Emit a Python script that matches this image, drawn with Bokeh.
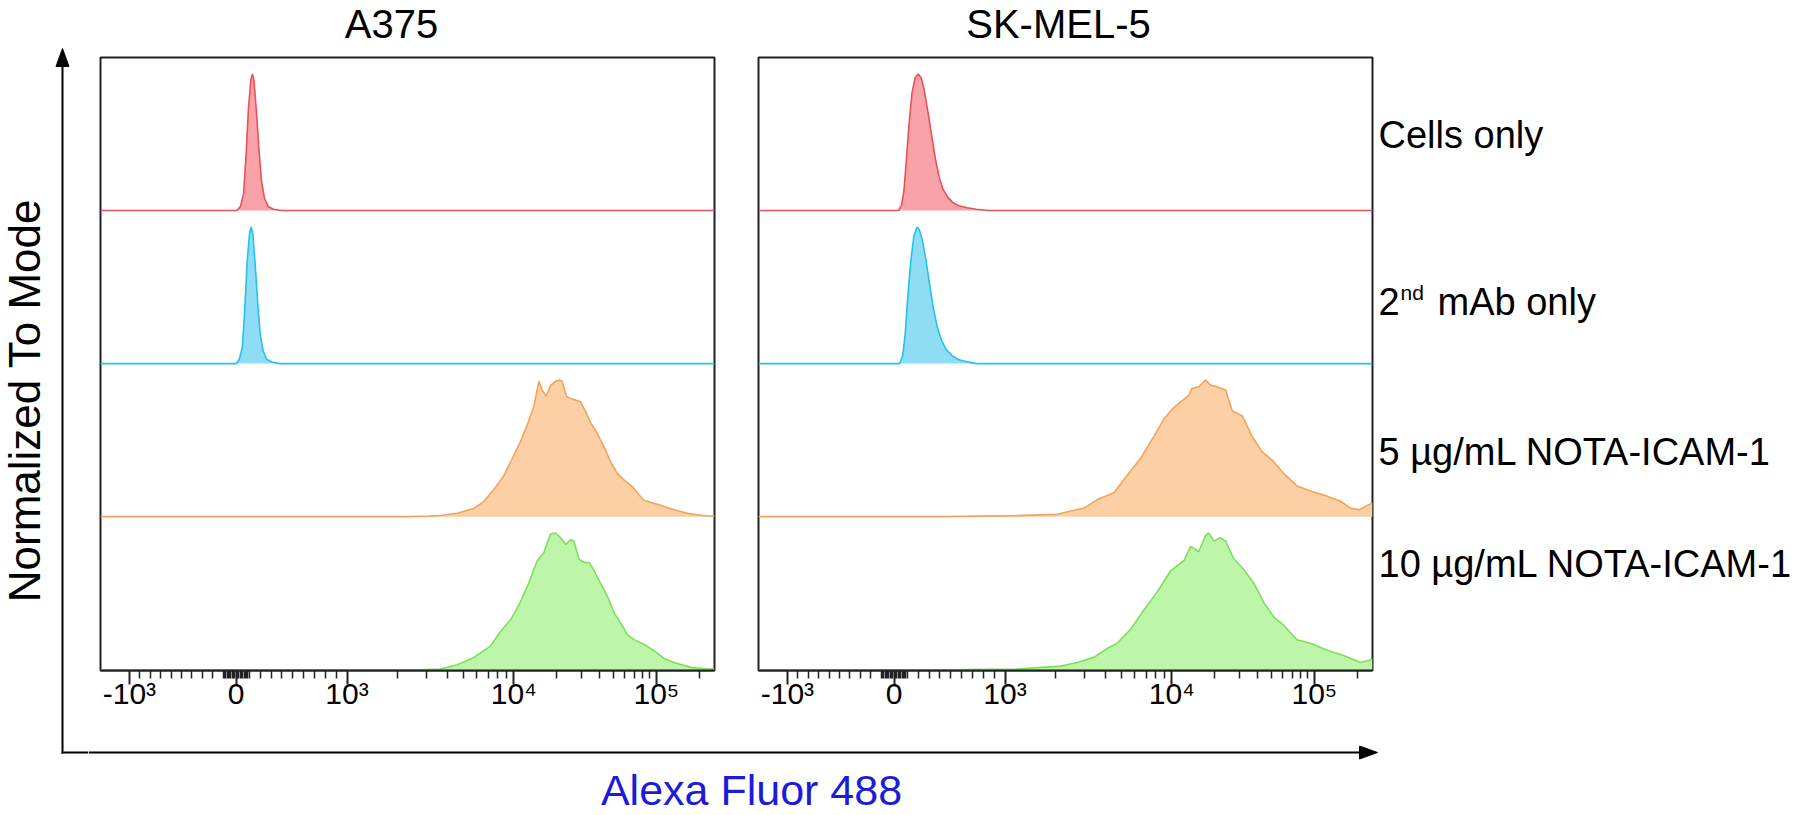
import math
from bokeh.plotting import figure
from bokeh.layouts import row, column
from bokeh.models import ColumnDataSource, Range1d, FixedTicker
from bokeh.core.properties import value
from bokeh.embed import file_html
from bokeh.resources import INLINE

# ---------------- data ----------------
PANELS = ["A375", "SK-MEL-5"]
SAMPLES = ["Cells only", "2nd mAb only", "5 µg/mL NOTA-ICAM-1", "10 µg/mL NOTA-ICAM-1"]
Y_LABEL = "Normalized To Mode"
X_LABEL = "Alexa Fluor 488"

# x: display channel of the biexponential Alexa Fluor 488 axis (0-1000), y: % of mode
A375_CELLS_CH = [0, 222, 228, 233, 237, 241, 245, 247.5, 250, 254, 258, 262, 267, 273, 282, 295, 1000]
A375_CELLS_PCT = [0, 0, 3, 12, 40, 75, 96, 100, 95, 72, 45, 22, 9, 3, 1, 0, 0]

A375_2ND_CH = [0, 221, 226, 231, 235, 239, 243, 245.5, 248, 252, 256, 260, 265, 271, 280, 292, 1000]
A375_2ND_PCT = [0, 0, 3, 12, 40, 76, 96, 100, 95, 72, 45, 22, 9, 3, 1, 0, 0]

A375_5UG_CH = [0, 500, 535, 554, 581, 608, 624, 641, 657, 670, 684, 695, 706, 714, 719, 726, 733, 741, 748, 752,
               759, 768, 782, 790, 798, 809, 820, 831, 841, 852, 866, 877, 885, 907, 934, 961, 988, 1000]
A375_5UG_PCT = [0, 0, 0.4, 0.8, 2.5, 6, 11, 20, 30, 42, 55, 67, 81, 99, 93, 88, 96, 99, 100, 99,
                88, 86, 84, 77, 69, 61, 51, 40, 32, 27, 22, 16, 12, 9, 5, 2, 0.5, 0.5]

A375_10UG_CH = [0, 520, 554, 581, 608, 635, 651.5, 668, 684, 698, 711, 722, 733, 741, 749.5, 758, 766, 771, 779.5, 788,
                796, 804, 815, 826, 837, 847.5, 858, 869, 885.5, 902, 918, 934, 961.5, 988.6, 1000]
A375_10UG_PCT = [0, 0, 0.5, 3.6, 8.9, 17.3, 28, 36.5, 49.6, 64, 79.6, 85.6, 99.3, 100, 96.4, 91.6, 95.2, 94, 80.8, 78.4,
                 78.4, 72.4, 62.8, 53.2, 41.2, 34, 25.7, 22, 18.5, 13.7, 8.2, 5.3, 1.7, 0.5, 0.5]

SK_CELLS_CH = [0, 228, 233, 237, 241, 245, 250, 255, 260, 265, 270, 276, 282, 288, 294, 300, 308, 316, 326, 340, 355, 375, 1000]
SK_CELLS_PCT = [0, 0, 4, 15, 38, 62, 86, 97, 100, 97, 88, 72, 55, 38, 25, 16, 10, 6, 3.5, 2, 1, 0, 0]

SK_2ND_CH = [0, 230, 235, 239, 243, 248, 253, 258, 262, 267, 273, 279, 285, 291, 298, 306, 315, 325, 338, 355, 1000]
SK_2ND_PCT = [0, 0, 6, 22, 48, 75, 93, 100, 98, 90, 75, 57, 40, 27, 17, 10, 6, 3, 1.5, 0, 0]

SK_5UG_CH = [0, 300, 421, 486, 530, 552, 579, 600, 622, 644, 660, 674, 687, 701, 706, 717, 728, 736, 747, 761,
             771.5, 788, 804, 820, 837, 856, 877, 899, 926, 948, 964, 978, 991.5, 1000]
SK_5UG_PCT = [0, 0, 0.75, 1.75, 6.25, 12.5, 17.5, 30, 42.5, 58.75, 71.25, 78.75, 83.75, 88.75, 93.75, 95, 100, 96.25, 95, 92.5,
              77.5, 73.75, 58.75, 47.5, 41.25, 31.25, 22.5, 18.75, 15, 11.25, 6.25, 5, 8.25, 10]

SK_10UG_CH = [0, 300, 421, 492, 519, 546, 568, 584, 606, 628, 649, 671, 693, 704, 717, 728, 733, 742, 752, 761,
              774, 790, 807, 823, 839, 856, 877, 899, 926, 953, 980.5, 1000]
SK_10UG_PCT = [0, 0, 0.5, 2.6, 5.2, 9, 15.5, 19.3, 29.6, 43.8, 56.7, 72.2, 79.9, 90.2, 86.3, 97.9, 100, 94, 96.6, 94,
               81.2, 73.5, 63.1, 49, 38.7, 32.2, 21.9, 19.3, 14.2, 10.3, 5.2, 7.7]

SERIES = {
    "A375": [(A375_CELLS_CH, A375_CELLS_PCT), (A375_2ND_CH, A375_2ND_PCT),
             (A375_5UG_CH, A375_5UG_PCT), (A375_10UG_CH, A375_10UG_PCT)],
    "SK-MEL-5": [(SK_CELLS_CH, SK_CELLS_PCT), (SK_2ND_CH, SK_2ND_PCT),
                 (SK_5UG_CH, SK_5UG_PCT), (SK_10UG_CH, SK_10UG_PCT)],
}

# axis calibration: tick values, their labels, and their display channels
TICK_VALUES = [-1000, 0, 1000, 10000, 100000]
TICK_LABELS = ["-10³", "0", "10³", "10⁴", "10⁵"]
TICK_CHANNELS = [47.1, 220.7, 401.5, 673.2, 905.4]

FILL_COLORS = ["#f9a3a8", "#8fdcf5", "#fccfa4", "#bdf6a8"]
LINE_COLORS = ["#e8505a", "#22c3ec", "#f2a35c", "#7edf5a"]

FONT = "Liberation Sans"
ROW = 112.0  # vertical room per sample (in % of mode)

# page layout (pixels)
FRAME_TOP, FRAME_BOTTOM = 57, 670
PANEL_TOP, PANEL_BOTTOM = 55, 745


def to_channel(v):
    neg0, zero, c3, c4, c5 = TICK_CHANNELS
    if v >= 1000:
        widths = [(1000, c3, c4 - c3), (10000, c4, c5 - c4), (100000, c5, c5 - c4)]
        base, ch, w = widths[0]
        for b, c, ww in widths:
            if v >= b:
                base, ch, w = b, c, ww
        return ch + w * math.log10(v / base)
    half = (c3 - zero) if v >= 0 else (zero - neg0)
    a = abs(v)
    inner = 0.12
    frac = inner * a / 100 if a <= 100 else inner + (1 - inner) * (a - 100) / 900
    return zero + math.copysign(frac * half, v if v != 0 else 1)


def minor_ticks():
    vals = []
    for s in (-1, 1):
        vals += [s * k for k in range(10, 100, 10)]
        vals += [s * k for k in range(100, 1000, 100)]
    vals += list(range(2000, 10000, 1000)) + list(range(20000, 100000, 10000)) + [200000]
    return [to_channel(v) for v in vals]


def no_align(p):
    try:
        p.frame_align = False
    except Exception:
        pass


def strip(x0, x1, y0, y1, bt=0, bb=0):
    """A frameless helper figure whose data units are page pixels (y grows downward)."""
    p = figure(width=x1 - x0, height=y1 - y0, x_range=Range1d(x0, x1),
               y_range=Range1d(y1 - bb, y0 + bt),
               output_backend="svg", toolbar_location=None, tools="", title=None,
               x_axis_location=None, y_axis_location=None,
               min_border_left=0, min_border_right=0, min_border_top=bt, min_border_bottom=bb)
    p.outline_line_color = None
    p.grid.visible = False
    p.background_fill_color = "white"
    p.border_fill_color = "white"
    no_align(p)
    return p


def make_panel(name, left):
    frame_w, frame_h = 614, FRAME_BOTTOM - FRAME_TOP
    bl = 12 if left else 22
    br = 22 if left else 4
    bt, bb = FRAME_TOP - PANEL_TOP, PANEL_BOTTOM - FRAME_BOTTOM
    p = figure(width=bl + frame_w + br, height=bt + frame_h + bb,
               x_range=Range1d(0, 1000), y_range=Range1d(-0.6, 4 * ROW),
               output_backend="svg", toolbar_location=None, tools="", title=None,
               y_axis_location=None,
               min_border_left=bl, min_border_right=br, min_border_top=bt, min_border_bottom=bb)
    p.outline_line_color = "#222222"
    p.outline_line_width = 2
    p.grid.visible = False
    p.background_fill_color = "white"
    p.border_fill_color = "white"

    for i, (ch, pct) in enumerate(SERIES[name]):
        base = (3 - i) * ROW
        src = ColumnDataSource(dict(x=ch, base=[base] * len(ch), top=[base + v for v in pct]))
        p.varea(x="x", y1="base", y2="top", source=src, fill_color=FILL_COLORS[i], fill_alpha=1.0)
        p.line(x="x", y="top", source=src, line_color=LINE_COLORS[i], line_width=1.6)

    ax = p.xaxis[0]
    ax.ticker = FixedTicker(ticks=TICK_CHANNELS, minor_ticks=minor_ticks())
    ax.major_label_overrides = {c: lab for c, lab in zip(TICK_CHANNELS, TICK_LABELS)}
    ax.major_label_text_font = FONT
    ax.major_label_text_font_size = "30px"
    ax.major_label_text_color = "black"
    ax.major_label_standoff = -8
    ax.axis_line_color = "#222222"
    ax.axis_line_width = 2
    ax.major_tick_out = 14
    ax.major_tick_in = 0
    ax.minor_tick_out = 8
    ax.minor_tick_in = 0
    ax.major_tick_line_color = "#222222"
    ax.major_tick_line_width = 2
    ax.minor_tick_line_color = "#222222"
    ax.minor_tick_line_width = 1.5
    return p


# ---- left strip: y label and vertical arrow ----
L = strip(0, 88, 0, 815)
L.text(x=[24], y=[400], text=[Y_LABEL], angle=math.pi / 2, text_font=value(FONT),
       text_font_size=value("44px"), text_align="center", text_baseline="middle", text_color="black")
L.line(x=[62, 62], y=[753, 62], line_color="black", line_width=2)
L.line(x=[61, 88], y=[752, 752], line_color="black", line_width=2)
L.patch(x=[62, 55.5, 68.5], y=[48, 66, 66], fill_color="black", line_color="black")

# ---- top strip: panel titles ----
T = strip(88, 1800, 0, PANEL_TOP)
T.text(x=[391, 1058], y=[23, 23], text=PANELS, text_font=value(FONT), text_font_size=value("40px"),
       text_align="center", text_baseline="middle", text_color="black")

# ---- panels ----
left_fig = make_panel("A375", True)
right_fig = make_panel("SK-MEL-5", False)

# ---- right strip: sample labels (same borders as the panels) ----
R = strip(1376, 1800, PANEL_TOP, PANEL_BOTTOM, bt=FRAME_TOP - PANEL_TOP, bb=PANEL_BOTTOM - FRAME_BOTTOM)
lab_x = 1378
lab_y = [134, 301, 451, 563]
for k, (lab, y) in enumerate(zip(SAMPLES, lab_y)):
    if k == 1:
        R.text(x=[lab_x], y=[y], text=["2"], text_font=value(FONT), text_font_size=value("38px"),
               text_baseline="middle", text_color="black")
        R.text(x=[lab_x + 22], y=[y - 9], text=["nd"], text_font=value(FONT), text_font_size=value("21px"),
               text_baseline="middle", text_color="black")
        R.text(x=[lab_x + 59], y=[y], text=["mAb only"], text_font=value(FONT), text_font_size=value("38px"),
               text_baseline="middle", text_color="black")
    else:
        R.text(x=[lab_x], y=[y], text=[lab], text_font=value(FONT), text_font_size=value("38px"),
               text_baseline="middle", text_color="black")

# ---- bottom strip: horizontal arrow and x label ----
B = strip(88, 1800, PANEL_BOTTOM, 815)
B.line(x=[88, 1362], y=[752, 752], line_color="black", line_width=2)
B.patch(x=[1377, 1359, 1359], y=[752, 745.5, 758.5], fill_color="black", line_color="black")
B.text(x=[751], y=[789], text=[X_LABEL], text_font=value(FONT), text_font_size=value("43px"),
       text_align="center", text_baseline="middle", text_color="#1c1cd8")

for fig in (left_fig, right_fig):
    no_align(fig)

layout = row(L, column(T, row(left_fig, right_fig, R, spacing=0), B, spacing=0), spacing=0)

open("out.html", "w").write(file_html(layout, INLINE))
